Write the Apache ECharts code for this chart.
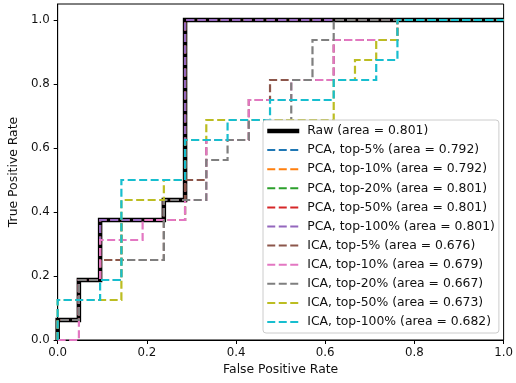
<!DOCTYPE html>
<html>
<head>
<meta charset="utf-8">
<script src="https://cdn.jsdelivr.net/npm/echarts@6/dist/echarts.min.js"></script>
<style>
html,body{margin:0;padding:0;background:#fff;}
#chart{width:516px;height:383px;}
</style>
</head>
<body>
<div id="chart"></div>
<script>
// Tick labels
const xTicks = [0.0, 0.2, 0.4, 0.6, 0.8, 1.0];
const yTicks = [0.0, 0.2, 0.4, 0.6, 0.8, 1.0];

// Series names (legend order)
const seriesNames = [
  'Raw (area = 0.801)',
  'PCA, top-5% (area = 0.792)',
  'PCA, top-10% (area = 0.792)',
  'PCA, top-20% (area = 0.801)',
  'PCA, top-50% (area = 0.801)',
  'PCA, top-100% (area = 0.801)',
  'ICA, top-5% (area = 0.676)',
  'ICA, top-10% (area = 0.679)',
  'ICA, top-20% (area = 0.667)',
  'ICA, top-50% (area = 0.673)',
  'ICA, top-100% (area = 0.682)'
];

// ROC points (FPR, TPR)
const rawFpr = [0, 0, 0.0476, 0.0476, 0.0952, 0.0952, 0.2381, 0.2381, 0.2857, 0.2857, 1];
const rawTpr = [0, 0.0625, 0.0625, 0.1875, 0.1875, 0.375, 0.375, 0.4375, 0.4375, 1, 1];

const pca5Fpr = [0, 0, 0.0476, 0.0476, 0.0952, 0.0952, 0.1429, 0.1429, 0.2857, 0.2857, 1];
const pca5Tpr = [0, 0.0625, 0.0625, 0.1875, 0.1875, 0.25, 0.25, 0.375, 0.375, 1, 1];

const pca10Fpr = [0, 0, 0.0476, 0.0476, 0.0952, 0.0952, 0.1429, 0.1429, 0.2857, 0.2857, 1];
const pca10Tpr = [0, 0.0625, 0.0625, 0.1875, 0.1875, 0.25, 0.25, 0.375, 0.375, 1, 1];

const pca20Fpr = [0, 0, 0.0476, 0.0476, 0.0952, 0.0952, 0.2381, 0.2381, 0.2857, 0.2857, 1];
const pca20Tpr = [0, 0.0625, 0.0625, 0.1875, 0.1875, 0.375, 0.375, 0.4375, 0.4375, 1, 1];

const pca50Fpr = [0, 0, 0.0476, 0.0476, 0.0952, 0.0952, 0.2381, 0.2381, 0.2857, 0.2857, 1];
const pca50Tpr = [0, 0.0625, 0.0625, 0.1875, 0.1875, 0.375, 0.375, 0.4375, 0.4375, 1, 1];

const pca100Fpr = [0, 0, 0.0476, 0.0476, 0.0952, 0.0952, 0.2381, 0.2381, 0.2857, 0.2857, 1];
const pca100Tpr = [0, 0.0625, 0.0625, 0.1875, 0.1875, 0.375, 0.375, 0.4375, 0.4375, 1, 1];

const ica5Fpr = [0, 0, 0.0476, 0.0476, 0.0952, 0.0952, 0.2381, 0.2381, 0.2857, 0.2857, 0.3333, 0.3333, 0.4286, 0.4286, 0.4762, 0.4762, 0.619, 0.619, 0.7619, 0.7619, 1];
const ica5Tpr = [0, 0.0625, 0.0625, 0.1875, 0.1875, 0.25, 0.25, 0.4375, 0.4375, 0.5, 0.5, 0.625, 0.625, 0.75, 0.75, 0.8125, 0.8125, 0.9375, 0.9375, 1, 1];

const ica10Fpr = [0, 0.0476, 0.0476, 0.0952, 0.0952, 0.1905, 0.1905, 0.2857, 0.2857, 0.3333, 0.3333, 0.4286, 0.4286, 0.5238, 0.5238, 0.619, 0.619, 0.7619, 0.7619, 1];
const ica10Tpr = [0, 0, 0.1875, 0.1875, 0.3125, 0.3125, 0.375, 0.375, 0.4375, 0.4375, 0.625, 0.625, 0.75, 0.75, 0.8125, 0.8125, 0.9375, 0.9375, 1, 1];

const ica20Fpr = [0, 0, 0.0476, 0.0476, 0.1429, 0.1429, 0.2381, 0.2381, 0.3333, 0.3333, 0.381, 0.381, 0.4286, 0.4286, 0.5238, 0.5238, 0.5714, 0.5714, 0.619, 0.619, 1];
const ica20Tpr = [0, 0.0625, 0.0625, 0.1875, 0.1875, 0.25, 0.25, 0.4375, 0.4375, 0.5625, 0.5625, 0.625, 0.625, 0.6875, 0.6875, 0.8125, 0.8125, 0.9375, 0.9375, 1, 1];

const ica50Fpr = [0, 0, 0.1429, 0.1429, 0.2381, 0.2381, 0.2857, 0.2857, 0.3333, 0.3333, 0.619, 0.619, 0.6667, 0.6667, 0.7143, 0.7143, 0.7619, 0.7619, 1];
const ica50Tpr = [0, 0.125, 0.125, 0.4375, 0.4375, 0.5, 0.5, 0.625, 0.625, 0.6875, 0.6875, 0.8125, 0.8125, 0.875, 0.875, 0.9375, 0.9375, 1, 1];

const ica100Fpr = [0, 0, 0.0952, 0.0952, 0.1429, 0.1429, 0.2857, 0.2857, 0.381, 0.381, 0.4762, 0.4762, 0.619, 0.619, 0.7143, 0.7143, 0.7619, 0.7619, 1];
const ica100Tpr = [0, 0.125, 0.125, 0.1875, 0.1875, 0.5, 0.5, 0.625, 0.625, 0.6875, 0.6875, 0.75, 0.75, 0.8125, 0.8125, 0.875, 0.875, 1, 1];

const seriesFpr = [rawFpr, pca5Fpr, pca10Fpr, pca20Fpr, pca50Fpr, pca100Fpr, ica5Fpr, ica10Fpr, ica20Fpr, ica50Fpr, ica100Fpr];
const seriesTpr = [rawTpr, pca5Tpr, pca10Tpr, pca20Tpr, pca50Tpr, pca100Tpr, ica5Tpr, ica10Tpr, ica20Tpr, ica50Tpr, ica100Tpr];

const colors = ['#000000', '#1f77b4', '#ff7f0e', '#2ca02c', '#d62728', '#9467bd',
                '#8c564b', '#e377c2', '#7f7f7f', '#bcbd22', '#17becf'];

const FONT = 'DejaVu Sans';

const series = seriesNames.map((name, i) => {
  const isRaw = i === 0;
  return {
    name: name,
    type: 'line',
    data: seriesFpr[i].map((x, k) => [x, seriesTpr[i][k]]),
    showSymbol: false,
    symbol: 'none',
    animation: false,
    clip: false,
    lineStyle: {
      color: colors[i],
      width: isRaw ? 4.5 : 2.2,
      type: isRaw ? 'solid' : [8, 3.5],
      cap: 'butt',
      join: 'miter'
    },
    itemStyle: { color: colors[i] },
    emphasis: { disabled: true }
  };
});

const legendData = seriesNames.map((name, i) => i === 0
  ? { name: name, lineStyle: { width: 4.5 } }
  : { name: name });

const chart = echarts.init(document.getElementById('chart'), null, { renderer: 'canvas' });
chart.setOption({
  animation: false,
  backgroundColor: '#ffffff',
  textStyle: { fontFamily: FONT },
  grid: {
    left: 55, right: 10, top: 4, bottom: 43,
    show: true, borderColor: '#000', borderWidth: 1, backgroundColor: 'transparent'
  },
  legend: {
    orient: 'vertical',
    left: 263, top: 120,
    padding: [4, 4, 4, 2],
    itemWidth: 32, itemHeight: 14, itemGap: 5.1,
    backgroundColor: 'rgba(255,255,255,0.85)',
    borderColor: '#cccccc', borderWidth: 1, borderRadius: 3,
    itemStyle: { opacity: 0 },
    textStyle: { fontFamily: FONT, fontSize: 12.4, color: '#111', lineHeight: 14, padding: [0, 0, 0, 3] },
    data: legendData,
    selectedMode: false
  },
  xAxis: {
    type: 'value', min: 0, max: 1, interval: 0.2,
    name: 'False Positive Rate', nameLocation: 'middle', nameGap: 24,
    nameTextStyle: { fontFamily: FONT, fontSize: 12.4, color: '#111' },
    axisLine: { show: true, lineStyle: { color: '#000', width: 1 } },
    axisTick: { show: true, length: 4, lineStyle: { color: '#000' }, customValues: xTicks },
    axisLabel: { fontFamily: FONT, fontSize: 11.8, color: '#111', margin: 7,
                 customValues: xTicks, formatter: v => v.toFixed(1) },
    splitLine: { show: false }
  },
  yAxis: {
    type: 'value', min: 0, max: 1.05, interval: 0.2,
    name: 'True Positive Rate', nameLocation: 'middle', nameGap: 36, nameRotate: 90,
    nameTextStyle: { fontFamily: FONT, fontSize: 12.4, color: '#111' },
    axisLine: { show: true, lineStyle: { color: '#000', width: 1 } },
    axisTick: { show: true, length: 4, lineStyle: { color: '#000' }, customValues: yTicks },
    axisLabel: { fontFamily: FONT, fontSize: 11.8, color: '#111', margin: 8,
                 customValues: yTicks, formatter: v => v.toFixed(1) },
    splitLine: { show: false }
  },
  series: series
});
</script>
</body>
</html>
